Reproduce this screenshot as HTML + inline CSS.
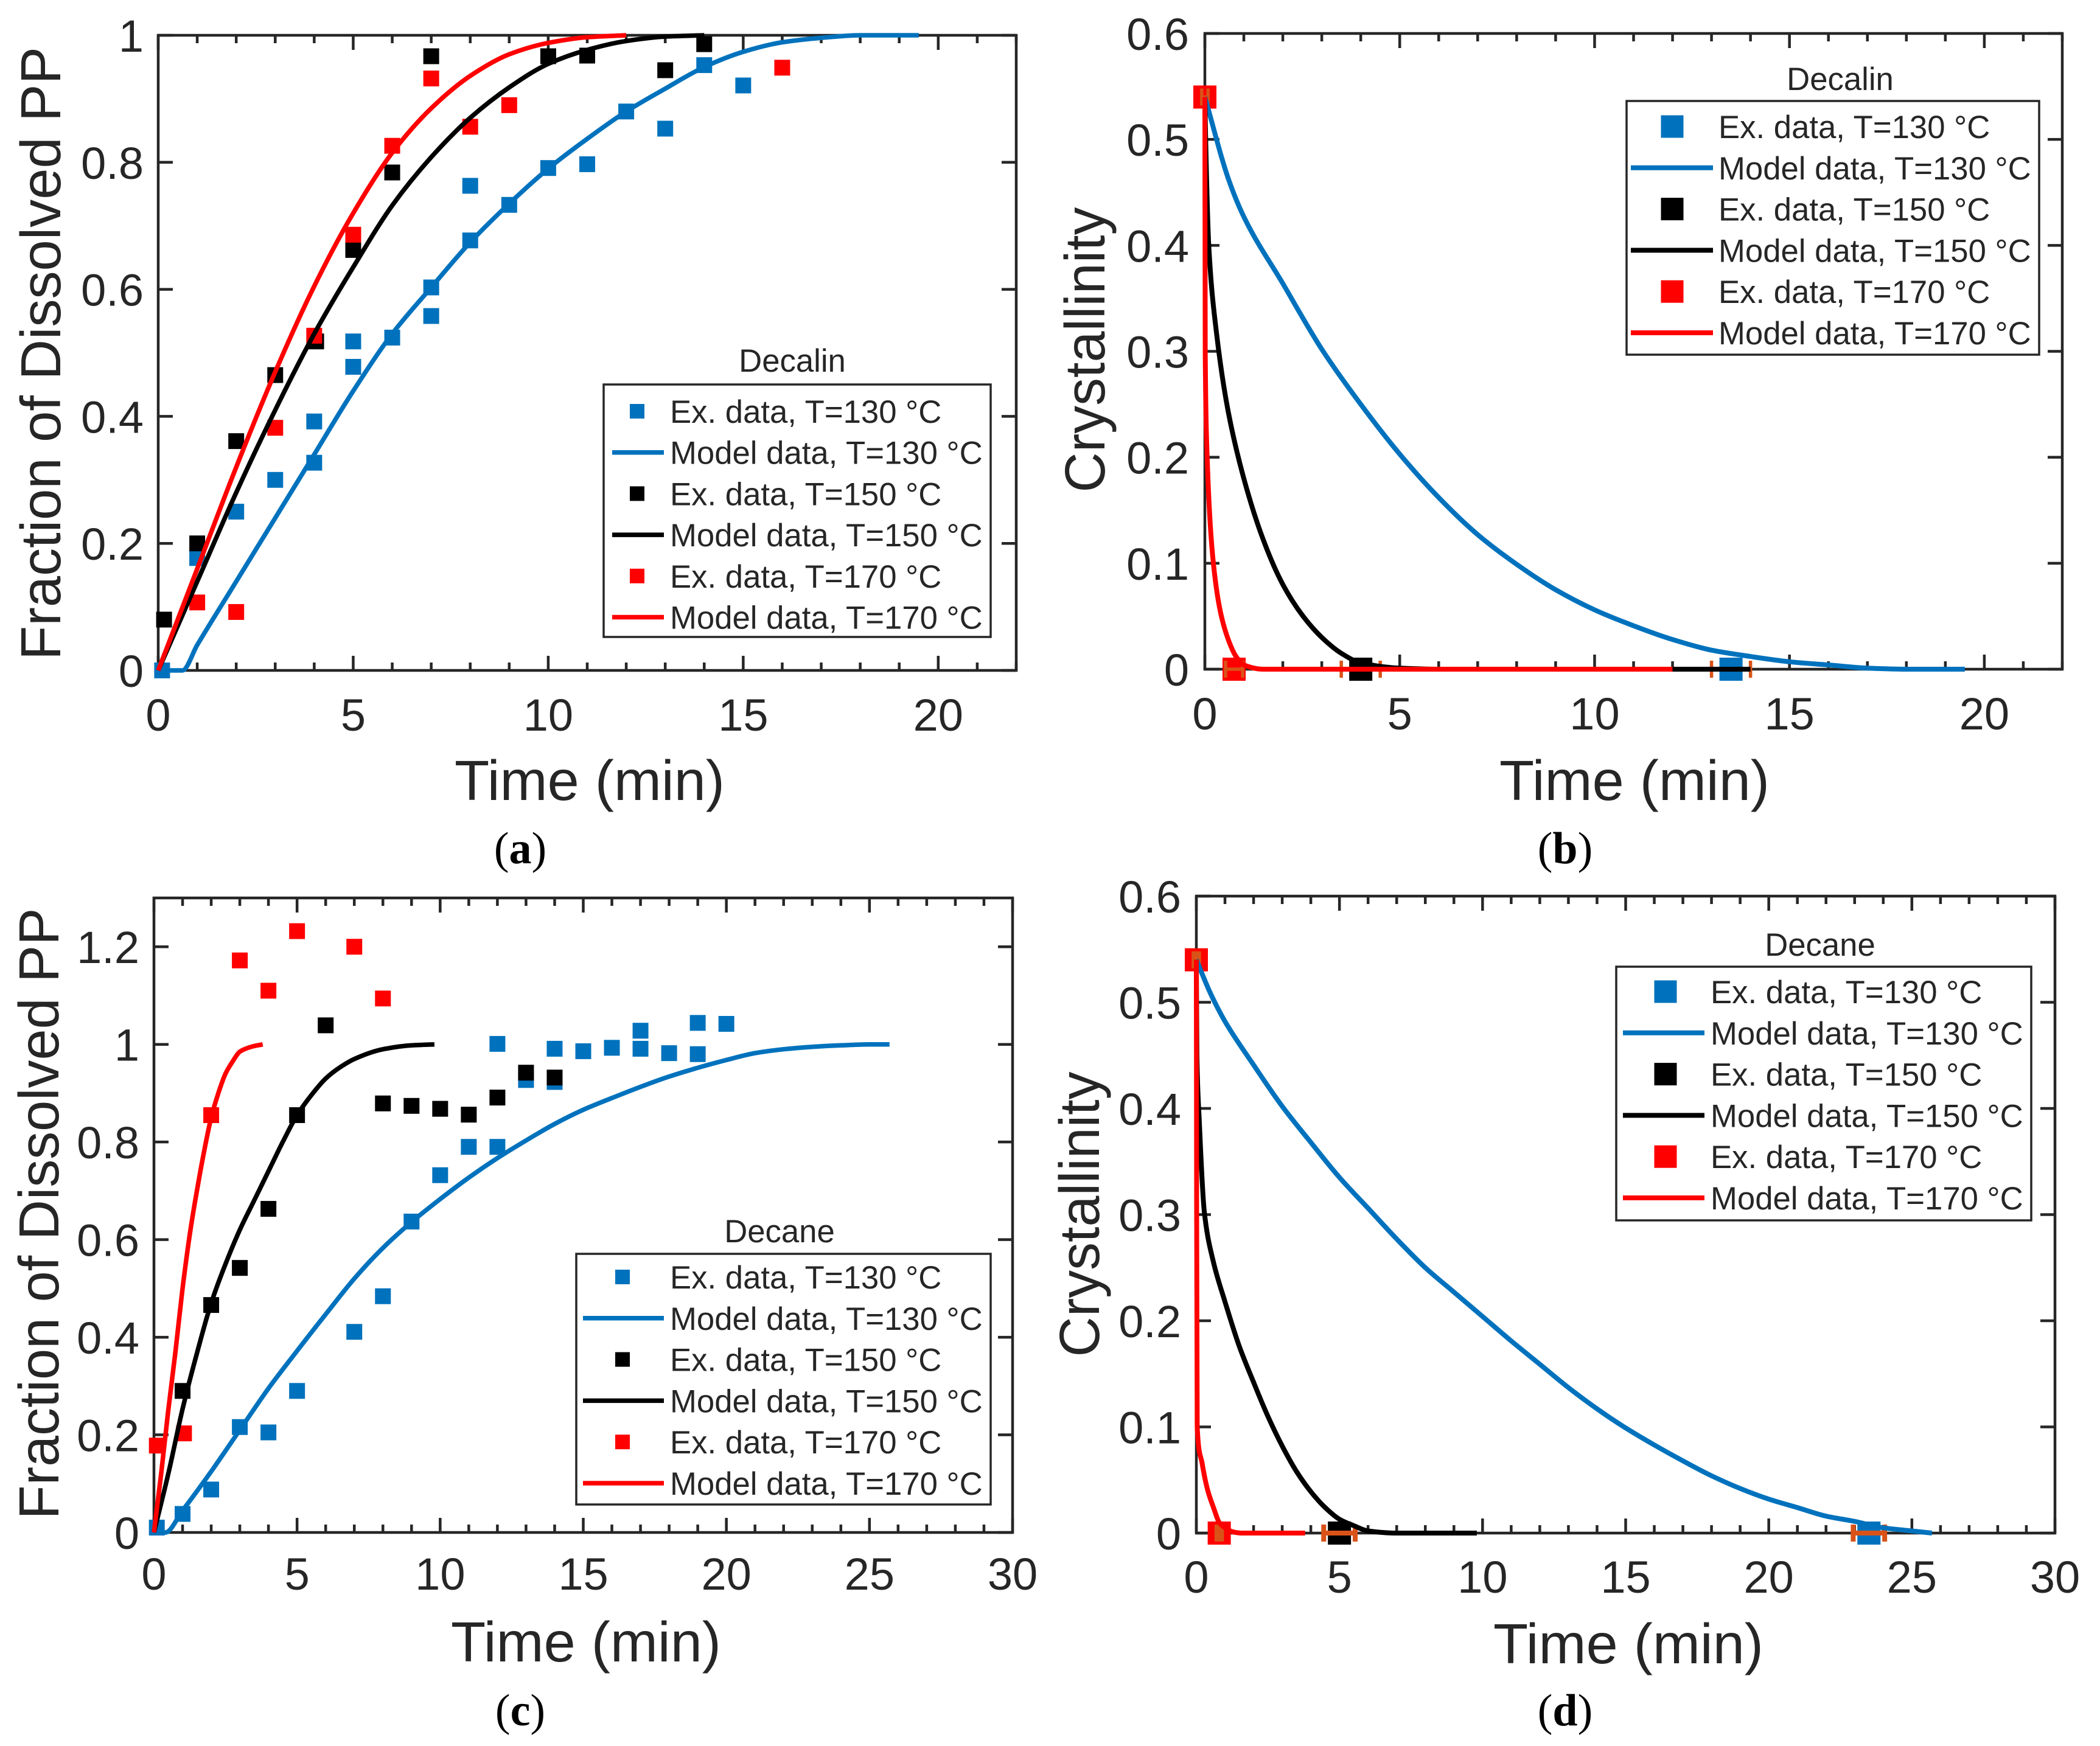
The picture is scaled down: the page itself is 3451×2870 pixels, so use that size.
<!DOCTYPE html>
<html lang="en">
<head>
<meta charset="utf-8">
<title>Dissolved PP fraction and crystallinity vs time</title>
<style>
html,body{margin:0;padding:0;background:#fff;}
svg{display:block;}
text{font-family:"Liberation Sans",Arial,sans-serif;fill:#262626;}
</style>
</head>
<body>
<svg id="fig" xmlns="http://www.w3.org/2000/svg" width="3451" height="2870" viewBox="0 0 3451 2870"></svg>
<script>
// ---- tick labels
const xTicksDecalin = [0, 5, 10, 15, 20];
const xTicksDecane = [0, 5, 10, 15, 20, 25, 30];
const yTicksFractionA = [0, 0.2, 0.4, 0.6, 0.8, 1];
const yTicksFractionC = [0, 0.2, 0.4, 0.6, 0.8, 1, 1.2];
const yTicksCrystal = [0, 0.1, 0.2, 0.3, 0.4, 0.5, 0.6];

// ---- panel a: experimental
const aExp130X = [0.1,1,2,3,4,4,5,5,6,7,7,8,8,9,10,11,12,13,14,15];
const aExp130Y = [0,0.177,0.25,0.3,0.392,0.327,0.518,0.478,0.524,0.603,0.558,0.763,0.677,0.733,0.791,0.797,0.88,0.853,0.953,0.921];
const aExp150X = [0.15,1,2,3,4.05,5,6,7,10,11,13,14];
const aExp150Y = [0.08,0.2,0.361,0.465,0.518,0.662,0.784,0.967,0.967,0.968,0.945,0.986];
const aExp170X = [1,2,3,4,5,6,7,8,9,16];
const aExp170Y = [0.107,0.092,0.382,0.527,0.686,0.826,0.932,0.856,0.89,0.949];
// ---- panel a: model
const aMod130T = [0,0.62,1,2,3,4,5,6,7,8,9,10,11,12,13,14,15,16,17,18,19.5];
const aMod130V = [0,0,0.04,0.14,0.24,0.34,0.44,0.53,0.603,0.674,0.735,0.79,0.837,0.88,0.916,0.95,0.974,0.989,0.996,1,1];
const aMod150T = [0,1,2,3,4,5,6,7,8,9,10,11,12,13,14];
const aMod150V = [0,0.14,0.28,0.41,0.53,0.635,0.732,0.808,0.87,0.918,0.955,0.977,0.991,0.998,1];
const aMod170T = [0,1,2,3,4,5,6,7,8,9,10,11,12];
const aMod170V = [0,0.16,0.32,0.47,0.605,0.72,0.815,0.885,0.936,0.97,0.988,0.997,1];

// ---- panel b: experimental
const bExp130X = [13.5]; const bExp130Y = [0]; const bExp130E = [0.5];
const bExp150X = [4]; const bExp150Y = [0]; const bExp150E = [0.5];
const bExp170X = [0,0.75]; const bExp170Y = [0.54,0]; const bExp170E = [0.08,0.22];
// ---- panel b: model
const bMod130T = [0,0.62,1,2,3,4,5,6,7,8,9,10,11,12,13,14,15,16,17,18,19.5];
const bMod130V = [0.54,0.461,0.427,0.364,0.302,0.25,0.203,0.162,0.127,0.099,0.075,0.056,0.041,0.028,0.018,0.012,0.007,0.004,0.001,0,0];
const bMod150T = [0,0.02,0.1,0.3,0.6,1,1.5,2,2.5,3,3.5,4,5,6,14];
const bMod150V = [0.54,0.5,0.4,0.317,0.243,0.18,0.122,0.08,0.051,0.03,0.015,0.006,0.001,0,0];
const bMod170T = [0,0.01,0.05,0.2,0.4,0.6,0.8,1,1.5,12];
const bMod170V = [0.54,0.3,0.21,0.107,0.054,0.028,0.012,0.004,0,0];

// ---- panel c: experimental
const cExp130X = [0.1,1,2,3,4,5,7,8,9,10,11,12,12,13,14,14,15,16,17,17,18,19,19,20];
const cExp130Y = [0.01,0.038,0.088,0.216,0.205,0.29,0.411,0.484,0.637,0.732,0.79,0.79,1.001,0.927,0.923,0.991,0.986,0.993,1.028,0.991,0.982,1.044,0.98,1.042];
const cExp150X = [1,2,3,4,5,6,8,9,10,11,12,13,14];
const cExp150Y = [0.29,0.466,0.542,0.663,0.855,1.039,0.879,0.874,0.868,0.856,0.891,0.942,0.932];
const cExp170X = [0.1,1.05,2,3,4,5,7,8];
const cExp170Y = [0.178,0.203,0.855,1.172,1.11,1.232,1.2,1.094];
// ---- panel c: model
const cMod130T = [0,0.4,1,2,3,4,5,6,7,8,9,10,11,12,13,14,15,16,17,18,19,20,21,22,23,24,25,25.7];
const cMod130V = [0,0,0.045,0.125,0.21,0.295,0.372,0.447,0.52,0.583,0.636,0.683,0.727,0.767,0.803,0.837,0.866,0.89,0.913,0.934,0.952,0.968,0.982,0.99,0.995,0.998,1,1];
const cMod150T = [0,0.5,1,1.5,2,2.5,3,3.5,4,4.5,5,5.5,6,6.5,7,8,9,9.8];
const cMod150V = [0,0.12,0.253,0.367,0.47,0.55,0.62,0.68,0.74,0.8,0.855,0.896,0.93,0.953,0.97,0.99,0.998,1];
const cMod170T = [0,0.25,0.5,0.75,1,1.25,1.5,1.75,2,2.25,2.5,2.75,3,3.4,3.8];
const cMod170V = [0,0.12,0.25,0.37,0.5,0.61,0.7,0.78,0.85,0.9,0.94,0.965,0.985,0.995,1];

// ---- panel d: experimental
const dExp130X = [23.5]; const dExp130Y = [0]; const dExp130E = [0.55];
const dExp150X = [5]; const dExp150Y = [0]; const dExp150E = [0.55];
const dExp170X = [0,0.8]; const dExp170Y = [0.54,0]; const dExp170E = [0.08,0.08];
// ---- panel d: model
const dMod130T = [0,0.5,1,2,3,4,5,6,7,8,9,10,11,12,13,14,15,16,17,18,19,20,21,22,23,24,25,25.7];
const dMod130V = [0.54,0.508,0.482,0.441,0.402,0.368,0.335,0.306,0.277,0.25,0.227,0.204,0.181,0.159,0.137,0.117,0.099,0.083,0.068,0.054,0.042,0.032,0.024,0.016,0.011,0.005,0.002,0];
const dMod150T = [0,0.02,0.1,0.28,0.6,1,1.5,2,2.5,3,3.5,4,4.5,5,5.5,6,7,9.8];
const dMod150V = [0.54,0.45,0.39,0.302,0.255,0.218,0.176,0.142,0.11,0.082,0.058,0.039,0.024,0.013,0.007,0.002,0,0];
const dMod170T = [0,0.01,0.03,0.2,0.4,0.6,0.8,1,1.3,1.6,3.8];
const dMod170V = [0.54,0.3,0.1,0.066,0.04,0.024,0.01,0.005,0.001,0,0];

const BLUE = '#0072BD', BLACK = '#000000', RED = '#FF0000', ORANGE = '#D95319', AXIS = '#262626';
const NS = 'http://www.w3.org/2000/svg';
const fig = document.getElementById('fig');

function mk(parent, tag, attrs, txt) {
  const e = document.createElementNS(NS, tag);
  for (const k in attrs) e.setAttribute(k, attrs[k]);
  if (txt !== undefined) e.textContent = txt;
  parent.appendChild(e);
  return e;
}
function label(parent, str, x, y, size, anchor, name, stretch, rotate) {
  const t = mk(parent, 'text', {x: x, y: y, 'font-size': size, 'text-anchor': anchor}, str);
  
  
  if (rotate) t.setAttribute('transform', 'rotate(-90 ' + x + ' ' + y + ')');
  if (stretch) {
    t.setAttribute('textLength', stretch);
    t.setAttribute('lengthAdjust', 'spacingAndGlyphs');
  }
  return t;
}
// monotone cubic path through the pixel points (keeps the curves smooth without overshoot)
function smoothPath(xs, ys) {
  const n = xs.length;
  const h = [], m = [], tan = [];
  for (let i = 0; i < n - 1; i++) {
    h.push(xs[i + 1] - xs[i]);
    m.push((ys[i + 1] - ys[i]) / h[i]);
  }
  tan[0] = m[0];
  tan[n - 1] = m[n - 2];
  for (let i = 1; i < n - 1; i++) {
    if (m[i - 1] * m[i] <= 0) tan[i] = 0;
    else tan[i] = (h[i - 1] + h[i]) * 3 / ((h[i] * 2 + h[i - 1]) / m[i - 1] + (h[i] + h[i - 1] * 2) / m[i]);
  }
  let d = 'M' + xs[0].toFixed(1) + ' ' + ys[0].toFixed(1);
  for (let i = 0; i < n - 1; i++) {
    const c1x = xs[i] + h[i] / 3, c1y = ys[i] + tan[i] * h[i] / 3;
    const c2x = xs[i + 1] - h[i] / 3, c2y = ys[i + 1] - tan[i + 1] * h[i] / 3;
    d += ' C' + c1x.toFixed(1) + ' ' + c1y.toFixed(1) + ' ' + c2x.toFixed(1) + ' ' + c2y.toFixed(1) + ' ' + xs[i + 1].toFixed(1) + ' ' + ys[i + 1].toFixed(1);
  }
  return d;
}

function drawPanel(p) {
  const g = mk(fig, 'g', {});
  
  
  const sx = v => p.left + (v - 0) / p.xMax * (p.right - p.left);
  const sy = v => p.bottom - (v - 0) / p.yMax * (p.bottom - p.top);

  // axes frame
  const frame = mk(g, 'rect', {x: p.left, y: p.top, width: p.right - p.left, height: p.bottom - p.top, fill: 'none', stroke: AXIS, 'stroke-width': 4.5});
  
  

  // ticks
  const ticks = mk(g, 'g', {stroke: AXIS, 'stroke-width': 4.5, fill: 'none'});
  
  
  for (let m = 0; m <= p.xMax; m++) {
    const len = m % 5 === 0 ? 24 : 13;
    mk(ticks, 'line', {x1: sx(m), x2: sx(m), y1: p.bottom, y2: p.bottom - len});
    mk(ticks, 'line', {x1: sx(m), x2: sx(m), y1: p.top, y2: p.top + len});
  }
  p.yTicks.forEach(v => {
    mk(ticks, 'line', {x1: p.left, x2: p.left + 24, y1: sy(v), y2: sy(v)});
    mk(ticks, 'line', {x1: p.right, x2: p.right - 24, y1: sy(v), y2: sy(v)});
  });

  // tick labels
  p.xTicks.forEach(v => {
    label(g, String(v), sx(v), p.xTickBase, 74, 'middle', 'x-tick-label');
  });
  p.yTicks.forEach(v => {
    label(g, String(v), p.yTickRight, sy(v) + 27, 74, 'end', 'y-tick-label');
  });

  // axis titles
  label(g, 'Time (min)', p.xTitleX, p.xTitleBase, 93, 'middle', 'x-axis-title', 444);
  label(g, p.yTitle, p.yTitleX, p.yTitleY, 93, 'middle', 'y-axis-title', p.yTitleLen, true);

  // markers
  p.exp.forEach(s => {
    const ms = p.markerSize;
    const mg = mk(g, 'g', {fill: s.color});
    
    
    s.x.forEach((xv, i) => {
      const r = mk(mg, 'rect', {x: sx(xv) - ms / 2, y: sy(s.y[i]) - ms / 2, width: ms, height: ms});
      
      
    });
  });

  // error bars
  p.exp.forEach(s => {
    if (!s.e) return;
    const eg = mk(g, 'g', {stroke: ORANGE, 'stroke-width': p.errWidth, fill: 'none'});
    
    
    s.x.forEach((xv, i) => {
      const y = sy(s.y[i]);
      const x1 = sx(xv - s.e[i]), x2 = sx(xv + s.e[i]);
      mk(eg, 'line', {x1: x1, x2: x2, y1: y, y2: y});
      mk(eg, 'line', {x1: x1, x2: x1, y1: y - 14, y2: y + 14});
      mk(eg, 'line', {x1: x2, x2: x2, y1: y - 14, y2: y + 14});
    });
  });

  // model lines
  p.model.forEach(s => {
    const d = smoothPath(s.t_.map(sx), s.v.map(sy));
    const path = mk(g, 'path', {d: d, fill: 'none', stroke: s.color, 'stroke-width': p.lineWidth, 'stroke-linejoin': 'round'});
    
    
  });

  // legend
  const L = p.legend;
  const lg = mk(g, 'g', {});
  
  
  label(lg, p.solvent, L.titleX, L.titleBase, 52.7, 'middle', 'legend-title');
  const box = mk(lg, 'rect', {x: L.left, y: L.top, width: L.right - L.left, height: L.bottom - L.top, fill: '#fff', stroke: AXIS, 'stroke-width': 3.5});
  
  
  const temps = ['130', '150', '170'];
  const cols = [BLUE, BLACK, RED];
  temps.forEach((t, i) => {
    const y1 = L.row0 + i * 2 * L.rowGap;
    const y2 = y1 + L.rowGap;
    const m = mk(lg, 'rect', {x: L.markX - L.mark / 2, y: y1 - L.mark / 2, width: L.mark, height: L.mark, fill: cols[i]});
    
    
    label(lg, 'Ex. data, T=' + t + ' °C', L.textX, y1 + 19, 52.7, 'start', 'legend-label-exp-' + t);
    const ln = mk(lg, 'line', {x1: L.lineL, x2: L.lineR, y1: y2, y2: y2, stroke: cols[i], 'stroke-width': p.lineWidth});
    
    
    label(lg, 'Model data, T=' + t + ' °C', L.textX, y2 + 19, 52.7, 'start', 'legend-label-model-' + t);
  });

  // caption
  const cap = mk(g, 'text', {x: p.capX, y: p.capBase, 'font-size': 74, 'text-anchor': 'middle', style: 'font-family:"Liberation Serif",serif;fill:#000'});
  
  
  mk(cap, 'tspan', {}, '(');
  mk(cap, 'tspan', {'font-weight': 'bold'}, p.id);
  mk(cap, 'tspan', {}, ')');
}

drawPanel({
  id: 'a', solvent: 'Decalin', yTitle: 'Fraction of Dissolved PP',
  left: 260, right: 1670, top: 58, bottom: 1102, xMax: 22, yMax: 1,
  xTicks: xTicksDecalin, yTicks: yTicksFractionA,
  xTickBase: 1201, yTickRight: 236, xTitleX: 969, xTitleBase: 1315,
  yTitleX: 99, yTitleY: 581, yTitleLen: 1008,
  markerSize: 26, lineWidth: 7.5, errWidth: 5, capX: 855, capBase: 1419,
  exp: [{t: '130', color: BLUE, x: aExp130X, y: aExp130Y}, {t: '150', color: BLACK, x: aExp150X, y: aExp150Y}, {t: '170', color: RED, x: aExp170X, y: aExp170Y}],
  model: [{t: '130', color: BLUE, t_: aMod130T, v: aMod130V}, {t: '150', color: BLACK, t_: aMod150T, v: aMod150V}, {t: '170', color: RED, t_: aMod170T, v: aMod170V}],
  legend: {left: 992, right: 1628, top: 632, bottom: 1047, titleX: 1302, titleBase: 611, row0: 676, rowGap: 67.7, markX: 1047, mark: 24, lineL: 1006, lineR: 1091, textX: 1101}
});

drawPanel({
  id: 'b', solvent: 'Decalin', yTitle: 'Crystallinity',
  left: 1980, right: 3389, top: 55, bottom: 1100, xMax: 22, yMax: 0.6,
  xTicks: xTicksDecalin, yTicks: yTicksCrystal,
  xTickBase: 1199, yTickRight: 1954, xTitleX: 2686, xTitleBase: 1315,
  yTitleX: 1815, yTitleY: 575, yTitleLen: 469,
  markerSize: 38, lineWidth: 8, errWidth: 5.5, capX: 2572, capBase: 1419,
  exp: [{t: '130', color: BLUE, x: bExp130X, y: bExp130Y, e: bExp130E}, {t: '150', color: BLACK, x: bExp150X, y: bExp150Y, e: bExp150E}, {t: '170', color: RED, x: bExp170X, y: bExp170Y, e: bExp170E}],
  model: [{t: '130', color: BLUE, t_: bMod130T, v: bMod130V}, {t: '150', color: BLACK, t_: bMod150T, v: bMod150V}, {t: '170', color: RED, t_: bMod170T, v: bMod170V}],
  legend: {left: 2673, right: 3351, top: 166, bottom: 583, titleX: 3024, titleBase: 148, row0: 208, rowGap: 67.8, markX: 2748, mark: 37, lineL: 2680, lineR: 2815, textX: 2824}
});

drawPanel({
  id: 'c', solvent: 'Decane', yTitle: 'Fraction of Dissolved PP',
  left: 253, right: 1664, top: 1476, bottom: 2519, xMax: 30, yMax: 1.3,
  xTicks: xTicksDecane, yTicks: yTicksFractionC,
  xTickBase: 2613, yTickRight: 229, xTitleX: 963, xTitleBase: 2731,
  yTitleX: 96, yTitleY: 1995, yTitleLen: 1005,
  markerSize: 26, lineWidth: 7.5, errWidth: 5, capX: 855, capBase: 2836,
  exp: [{t: '130', color: BLUE, x: cExp130X, y: cExp130Y}, {t: '150', color: BLACK, x: cExp150X, y: cExp150Y}, {t: '170', color: RED, x: cExp170X, y: cExp170Y}],
  model: [{t: '130', color: BLUE, t_: cMod130T, v: cMod130V}, {t: '150', color: BLACK, t_: cMod150T, v: cMod150V}, {t: '170', color: RED, t_: cMod170T, v: cMod170V}],
  legend: {left: 947, right: 1628, top: 2061, bottom: 2473, titleX: 1281, titleBase: 2042, row0: 2099, rowGap: 67.8, markX: 1023, mark: 24, lineL: 958, lineR: 1091, textX: 1101}
});

drawPanel({
  id: 'd', solvent: 'Decane', yTitle: 'Crystallinity',
  left: 1966, right: 3377, top: 1473, bottom: 2520, xMax: 30, yMax: 0.6,
  xTicks: xTicksDecane, yTicks: yTicksCrystal,
  xTickBase: 2618, yTickRight: 1941, xTitleX: 2676, xTitleBase: 2734,
  yTitleX: 1806, yTitleY: 1996, yTitleLen: 469,
  markerSize: 38, lineWidth: 8, errWidth: 8, capX: 2572, capBase: 2836,
  exp: [{t: '130', color: BLUE, x: dExp130X, y: dExp130Y, e: dExp130E}, {t: '150', color: BLACK, x: dExp150X, y: dExp150Y, e: dExp150E}, {t: '170', color: RED, x: dExp170X, y: dExp170Y, e: dExp170E}],
  model: [{t: '130', color: BLUE, t_: dMod130T, v: dMod130V}, {t: '150', color: BLACK, t_: dMod150T, v: dMod150V}, {t: '170', color: RED, t_: dMod170T, v: dMod170V}],
  legend: {left: 2656, right: 3338, top: 1589, bottom: 2006, titleX: 2991, titleBase: 1571, row0: 1630, rowGap: 67.8, markX: 2737, mark: 37, lineL: 2667, lineR: 2801, textX: 2811}
});
</script>
</body>
</html>
